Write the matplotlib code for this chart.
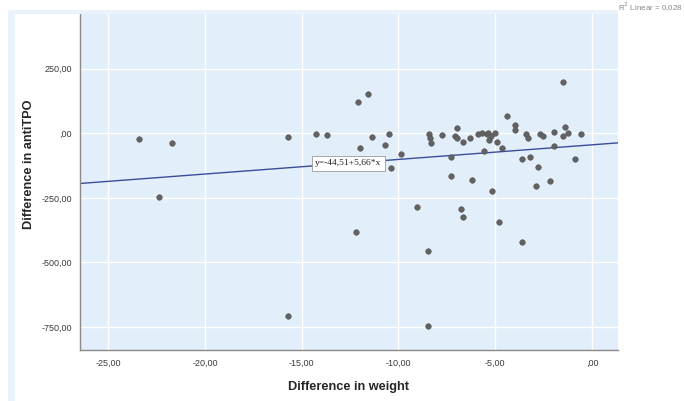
import matplotlib
matplotlib.use("Agg")
import matplotlib.pyplot as plt
from matplotlib.patches import Rectangle

# ---- data ----
weight_diff = [-23.38, -21.68, -22.38, -15.69, -14.27, -13.69, -15.69, -1.48,
               -12.07, -11.57, -11.98, -11.38, -10.69, -10.49, -10.40, -9.88,
               -12.19, -9.06, -8.47, -8.40, -8.37, -8.30, -7.76, -7.28, -7.28,
               -7.09, -6.99, -6.96, -6.68, -6.78, -6.68, -6.28, -6.18, -5.89,
               -5.58, -5.44, -5.36, -5.30, -5.01, -5.18, -4.89, -4.66, -4.79,
               -4.39, -3.99, -3.99, -3.60, -3.60, -3.41, -3.29, -3.19, -2.79,
               -2.89, -2.70, -2.51, -2.18, -1.98, -1.98, -1.48, -1.38, -1.24,
               -0.88, -0.58, -8.48, -5.70, -5.21]
antitpo_diff = [-21, -38, -245, -16, -3, -7, -706, 200,
                120, 153, -56, -16, -47, -2, -136, -82,
                -381, -285, -457, -2, -20, -38, -8, -91, -165,
                -12, 20, -19, -32, -293, -323, -17, -180, -3,
                -69, -2, 1, -25, 1, -225, -33, -56, -342,
                66, 33, 11, -100, -421, -2, -20, -90, -132,
                -205, -2, -10, -184, 5, -51, -11, 24, 3,
                -100, -3, -745, 1, -10]

fit_intercept = -44.51
fit_slope = 5.66
fit_label = "y=-44,51+5,66*x"
r2_label = "R$^2$ Linear = 0,028"

x_ticks = [-25, -20, -15, -10, -5, 0]
x_tick_labels = ["-25,00", "-20,00", "-15,00", "-10,00", "-5,00", ",00"]
y_ticks = [250, 0, -250, -500, -750]
y_tick_labels = ["250,00", ",00", "-250,00", "-500,00", "-750,00"]

x_title = "Difference in weight"
y_title = "Difference in antiTPO"

# ---- figure ----
W, H = 684, 401
fig = plt.figure(figsize=(W / 100, H / 100), dpi=100)
fig.patch.set_facecolor("white")

# pale outer panel strips (left and top)
fig.patches.append(Rectangle((8 / W, 0), 7 / W, 1 - 10 / H, transform=fig.transFigure,
                             facecolor="#eaf2fb", edgecolor="none", zorder=0))
fig.patches.append(Rectangle((8 / W, 1 - 14 / H), (618 - 8) / W, 4 / H, transform=fig.transFigure,
                             facecolor="#eaf2fb", edgecolor="none", zorder=0))

ax = fig.add_axes([80 / W, 1 - 350 / H, (618 - 80) / W, (350 - 14) / H])
ax.set_facecolor("#e2eefa")

xlim = (-26.45, 1.34)
ylim = (-839, 462)
ax.set_xlim(*xlim)
ax.set_ylim(*ylim)

ax.grid(True, color="white", linewidth=1.0, zorder=0)
ax.set_axisbelow(True)

ax.scatter(weight_diff, antitpo_diff, s=16, color="#626262", edgecolors="#555555",
           linewidths=0.4, zorder=3)

# regression line
lx = list(xlim)
ly = [fit_intercept + fit_slope * v for v in lx]
ax.plot(lx, ly, color="#3a4d9a", linewidth=1.0, zorder=2)

# label on the line
lab_x = -12.6
ax.text(lab_x, fit_intercept + fit_slope * lab_x, fit_label, fontsize=6.8,
        family="Liberation Serif", ha="center", va="center", color="#222222", zorder=4,
        bbox=dict(boxstyle="square,pad=0.35", facecolor="white", edgecolor="#9a9a9a",
                  linewidth=0.6))

ax.set_xticks(x_ticks)
ax.set_xticklabels(x_tick_labels)
ax.set_yticks(y_ticks)
ax.set_yticklabels(y_tick_labels)
ax.tick_params(length=0, labelsize=6.5, labelcolor="#3a3a3a", pad=6)
for lbl in ax.get_xticklabels() + ax.get_yticklabels():
    lbl.set_family("Liberation Sans")

for side in ("top", "right"):
    ax.spines[side].set_visible(False)
for side in ("left", "bottom"):
    ax.spines[side].set_color("#8a8a8a")
    ax.spines[side].set_linewidth(1.0)

fig.text(349 / W, 1 - 387 / H, x_title, ha="center", va="center", fontsize=9.2,
         family="Liberation Sans", fontweight="bold", color="#262626")
fig.text(29 / W, 1 - 164 / H, y_title, ha="center", va="center", rotation=90,
         fontsize=9.2, family="Liberation Sans", fontweight="bold", color="#262626")

fig.text(618 / W, 1 - 7 / H, r2_label, ha="left", va="center", fontsize=5.8,
         family="Liberation Sans", color="#8a8a8a")

fig.savefig("out.png", dpi=100, facecolor=fig.get_facecolor())
